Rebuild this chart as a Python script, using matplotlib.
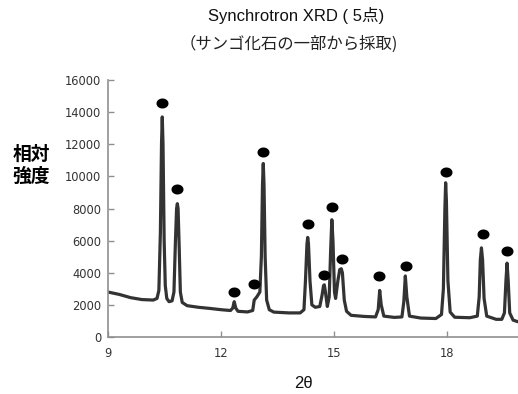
import matplotlib
matplotlib.use("Agg")
import matplotlib.pyplot as plt
import numpy as np

# ---- data ----
trace_x = [9.00, 9.30, 9.60, 9.90, 10.20, 10.30, 10.35, 10.39, 10.42, 10.44, 10.46, 10.49, 10.52, 10.56,
           10.62, 10.70, 10.75, 10.79, 10.82, 10.84, 10.86, 10.89, 10.92, 10.97, 11.10, 11.40, 11.70,
           12.00, 12.25, 12.31, 12.35, 12.39, 12.45, 12.70, 12.84, 12.88, 12.95, 13.03, 13.07, 13.10,
           13.12, 13.14, 13.17, 13.21, 13.28, 13.40, 13.80, 14.10, 14.20, 14.24, 14.28, 14.30, 14.32,
           14.36, 14.41, 14.50, 14.62, 14.68, 14.72, 14.74, 14.77, 14.82, 14.87, 14.91, 14.94, 14.97,
           15.01, 15.04, 15.10, 15.15, 15.19, 15.22, 15.27, 15.33, 15.45, 15.80, 16.10, 16.17, 16.21,
           16.25, 16.32, 16.60, 16.80, 16.85, 16.89, 16.93, 17.00, 17.30, 17.70, 17.85, 17.90, 17.94,
           17.96, 17.98, 18.02, 18.08, 18.20, 18.60, 18.80, 18.85, 18.88, 18.91, 18.94, 18.98, 19.05,
           19.30, 19.45, 19.52, 19.56, 19.59, 19.62, 19.66, 19.75, 19.88]
trace_y = [2800, 2650, 2450, 2330, 2300, 2400, 2900, 6500, 12000, 13700, 12000, 6000, 3200, 2400,
           2200, 2250, 2800, 6000, 8000, 8300, 8000, 5500, 2800, 2150, 1950, 1850, 1780,
           1700, 1650, 1800, 2200, 1800, 1600, 1560, 1650, 2300, 2500, 2800, 5000, 9500,
           10800, 9500, 5000, 2300, 1700, 1550, 1500, 1500, 1700, 3500, 5800, 6200, 5800,
           3500, 2000, 1850, 1900, 2600, 3200, 3250, 2800, 1900, 2500, 5500, 7300, 6000,
           2800, 2400, 3500, 4200, 4250, 4000, 2300, 1600, 1350, 1280, 1250, 1700, 2900,
           2000, 1300, 1220, 1250, 2200, 3800, 2500, 1300, 1180, 1150, 1400, 3000, 8000,
           9600, 8500, 3500, 1550, 1230, 1200, 1300, 2500, 4800, 5550, 4800, 2400, 1300,
           1100, 1100, 1500, 3500, 4600, 3500, 1500, 1050, 950]

marker_x = [10.42, 10.84, 12.35, 12.88, 13.12, 14.31, 14.72, 14.94, 15.20, 16.19, 16.91, 17.96, 18.95, 19.58]
marker_y = [14550, 9200, 2780, 3300, 11500, 7040, 3840, 8120, 4860, 3820, 4440, 10250, 6390, 5370]

x_ticks = [9, 12, 15, 18]
y_ticks = [0, 2000, 4000, 6000, 8000, 10000, 12000, 14000, 16000]

title = "Synchrotron XRD ( 5点)"
subtitle = "（サンゴ化石の一部から採取)"
ylabel = "相対\n強度"
xlabel = "2θ"

# ---- figure ----
W, H = 518, 394
fig = plt.figure(figsize=(W / 100, H / 100), dpi=100)
ax = fig.add_axes([108 / W, 1 - 337 / H, 1 - 108 / W, (337 - 80) / H])

ax.plot(trace_x, trace_y, color="#333333", lw=2.3, solid_joinstyle="round")

t = np.linspace(0, 2 * np.pi, 40)
ell = np.column_stack([1.2 * np.cos(t), np.sin(t)])
ax.scatter(marker_x, marker_y, marker=ell, s=75, color="black", zorder=3, linewidths=0)

ax.set_xlim(9, 19.88)
ax.set_ylim(0, 16000)
ax.set_xticks(x_ticks)
ax.set_yticks(y_ticks)
for s in ["top", "right"]:
    ax.spines[s].set_visible(False)
for s in ["left", "bottom"]:
    ax.spines[s].set_color("#909090")
    ax.spines[s].set_linewidth(1.2)
ax.tick_params(direction="in", length=4, width=1, color="#909090", labelcolor="#333333",
               labelsize=8.3)
ax.tick_params(axis="y", pad=5)
ax.tick_params(axis="x", pad=7)
for lab in ax.get_xticklabels() + ax.get_yticklabels():
    lab.set_family("DejaVu Sans")

fig.text(296 / W, 1 - 16 / H, title, ha="center", va="center", fontsize=12,
         family=["Liberation Sans", "Noto Sans CJK JP"], color="#111111")
fig.text(289 / W, 1 - 44 / H, subtitle, ha="center", va="center", fontsize=11.8,
         family=["Noto Sans CJK JP", "DejaVu Sans"], color="#222222")
fig.text(31 / W, 1 - 165 / H, ylabel, ha="center", va="center", fontsize=13.5,
         fontweight="bold", family=["Noto Sans CJK JP", "DejaVu Sans"], linespacing=1.2)
fig.text(303 / W, 1 - 383 / H, xlabel, ha="center", va="center", fontsize=12,
         family=["Liberation Sans", "DejaVu Sans"], color="#111111")

fig.savefig("out.png", dpi=100)
